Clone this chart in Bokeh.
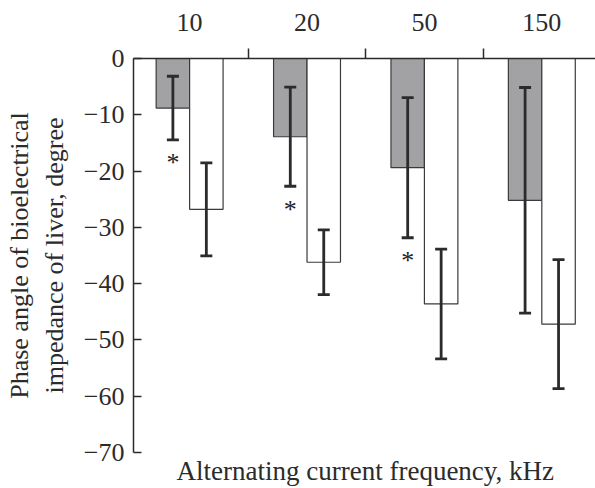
from bokeh.plotting import figure
from bokeh.models import Range1d, LinearAxis, FixedTicker, ColumnDataSource, Whisker, TeeHead, Title
from bokeh.embed import file_html
from bokeh.resources import INLINE
from bokeh.core.properties import value

# ---- data ----
freq_labels = ["10", "20", "50", "150"]
gray_mean = [-8.8, -13.9, -19.4, -25.2]
gray_sd = [5.65, 8.8, 12.45, 20.05]
white_mean = [-26.8, -36.2, -43.6, -47.2]
white_sd = [8.25, 5.75, 9.75, 11.45]
significant = [True, True, True, False]
y_ticks = [0, -10, -20, -30, -40, -50, -60, -70]
y_tick_labels = ["0", "\u221210", "\u221220", "\u221230", "\u221240", "\u221250", "\u221260", "\u221270"]
x_title = "Alternating current frequency, kHz"
y_title = "Phase angle of bioelectrical\nimpedance of liver, degree"

FONT = "Liberation Serif"
FS = "26px"
INK = "#2b2b2b"
BW = 0.285

n = len(freq_labels)
centers = [i + 0.5 for i in range(n)]
gray_x = [c - BW / 2 for c in centers]
white_x = [c + BW / 2 for c in centers]

gray_src = ColumnDataSource(dict(
    x=gray_x, bottom=gray_mean,
    upper=[m + s for m, s in zip(gray_mean, gray_sd)],
    lower=[m - s for m, s in zip(gray_mean, gray_sd)]))
white_src = ColumnDataSource(dict(
    x=white_x, bottom=white_mean,
    upper=[m + s for m, s in zip(white_mean, white_sd)],
    lower=[m - s for m, s in zip(white_mean, white_sd)]))

star_x = [x for x, s in zip(gray_x, significant) if s]
star_y = [m - s - 3.0 for m, s, f in zip(gray_mean, gray_sd, significant) if f]
star_src = ColumnDataSource(dict(x=star_x, y=star_y, t=["*"] * len(star_x)))

W, H = 595, 488
LEFT, TOP, BOTTOM = 133, 58, 36
px_per_cat = 117.4
x0 = 0.022
x1 = x0 + (W - LEFT) / px_per_cat

p = figure(width=W, height=H, output_backend="svg", toolbar_location=None,
           x_range=Range1d(x0, x1), y_range=Range1d(-70, 0),
           x_axis_location=None, y_axis_location="left")
p.outline_line_color = None
p.xgrid.visible = False
p.ygrid.visible = False
p.min_border_left = LEFT
p.min_border_top = TOP
p.min_border_right = 0
p.min_border_bottom = BOTTOM
p.border_fill_color = "white"

# bars
p.vbar(x="x", top=0, bottom="bottom", width=BW, source=gray_src,
       fill_color="#a2a2a5", line_color="#3a3a3a", line_width=1.2)
p.vbar(x="x", top=0, bottom="bottom", width=BW, source=white_src,
       fill_color="white", line_color="#3a3a3a", line_width=1.2)

for src in (gray_src, white_src):
    w = Whisker(source=src, base="x", upper="upper", lower="lower", dimension="height",
                line_color=INK, line_width=2.8, level="overlay",
                upper_head=TeeHead(size=12, line_color=INK, line_width=2.8),
                lower_head=TeeHead(size=12, line_color=INK, line_width=2.8))
    p.add_layout(w)

p.text(x="x", y="y", text="t", source=star_src, text_font=value(FONT),
       text_font_size=FS, text_align="center", text_baseline="middle",
       text_color="#222222", y_offset=6)

# y axis
ya = p.yaxis[0]
ya.ticker = FixedTicker(ticks=y_ticks)
ya.major_label_overrides = {t: l for t, l in zip(y_ticks, y_tick_labels)}
ya.major_tick_in = 8
ya.major_tick_out = 0
ya.minor_tick_line_color = None
ya.axis_line_color = INK
ya.axis_line_width = 1.5
ya.major_tick_line_color = INK
ya.major_tick_line_width = 1.5
ya.major_label_standoff = 9
ya.major_label_text_font = FONT
ya.major_label_text_font_size = FS
ya.major_label_text_color = INK
ya.axis_label = y_title
ya.axis_label_text_font = FONT
ya.axis_label_text_font_size = FS
ya.axis_label_text_font_style = "normal"
ya.axis_label_text_color = INK
ya.axis_label_standoff = 12

# top axis with category labels
ta = LinearAxis(ticker=FixedTicker(ticks=centers, minor_ticks=[1, 2, 3]))
ta.major_label_overrides = {c: l for c, l in zip(centers, freq_labels)}
ta.major_tick_in = 0
ta.major_tick_out = 0
ta.minor_tick_in = 0
ta.minor_tick_out = 10
ta.minor_tick_line_color = INK
ta.minor_tick_line_width = 1.5
ta.axis_line_color = INK
ta.axis_line_width = 1.5
ta.major_label_standoff = 18
ta.major_label_text_font = FONT
ta.major_label_text_font_size = FS
ta.major_label_text_color = INK
p.add_layout(ta, "above")

# x title below the frame
xt = Title(text=x_title, align="left", offset=43, standoff=3,
           text_font=FONT, text_font_size="27px", text_font_style="normal",
           text_color=INK, vertical_align="bottom")
p.add_layout(xt, "below")

open("out.html", "w").write(file_html(p, INLINE))
